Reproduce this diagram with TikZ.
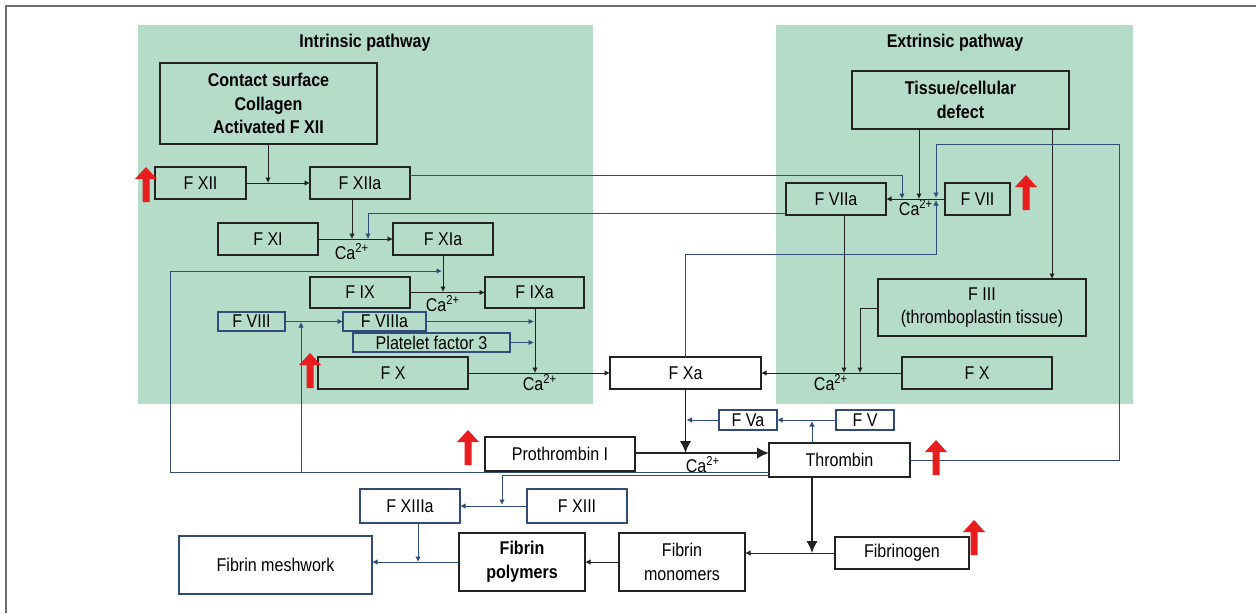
\documentclass[tikz,border=0pt]{standalone}
\usepackage{fontspec}
\setmainfont[FakeStretch=0.87]{Liberation Sans}
\usetikzlibrary{arrows.meta}
\definecolor{pathgreen}{RGB}{181,219,201}
\definecolor{bl}{RGB}{50,76,122}
\definecolor{bk}{RGB}{35,35,35}
\definecolor{upred}{RGB}{232,30,30}
\definecolor{framegray}{RGB}{110,110,110}
\newcommand\txtfont{\fontsize{10.5}{13.5}\selectfont}
\newcommand\bx[7]{\node[#6, minimum width={(#4-#2)*0.02cm}, minimum height={(#5-#3)*0.02cm}] (#1) at ({(#2+#4)/2},{(#3+#5)/2}) {#7};}
\newcommand\redup[3]{\fill[upred] (#1-3.5,#3) -- (#1-3.5,#2+12) -- (#1-11,#2+12) -- (#1,#2) -- (#1+11,#2+12) -- (#1+3.5,#2+12) -- (#1+3.5,#3) -- cycle;}
\tikzset{
  every node/.style={font=\txtfont, text=black, inner sep=0pt, outer sep=0pt, align=center},
  bbox/.style={draw=bk, line width=0.7pt},
  blbox/.style={draw=bl, line width=0.7pt},
  boldbox/.style={draw=bk, line width=0.8pt, font=\txtfont\bfseries},
  thickbox/.style={draw=bk, line width=1.1pt, font=\txtfont\bfseries},
  conn/.style={draw=bk, line width=0.55pt, -{Latex[length=1.1mm,width=1.1mm]}},
  bconn/.style={draw=bl, line width=0.55pt, -{Latex[length=1.1mm,width=1.1mm]}},
  bline/.style={draw=bl, line width=0.55pt},
  bigarr/.style={draw=bk, line width=1.1pt, -{Latex[length=2.4mm,width=2.3mm]}},
  ptitle/.style={font=\txtfont\bfseries},
}
\begin{document}
\begin{tikzpicture}[x=0.02cm, y=-0.02cm]
\useasboundingbox (0,0) rectangle (1256,613);
% frame
\draw[framegray, line width=0.8pt] (1256,6) -- (6,6) -- (6,613);
% pathway areas
\fill[pathgreen] (138,25) rectangle (593,404);
\fill[pathgreen] (776,25) rectangle (1133,404);
\node[ptitle] (tin) at (365,43) {Intrinsic pathway};
\node[ptitle] (tex) at (955,43) {Extrinsic pathway};

% boxes
\bx{contact}{160}{63}{377}{144}{boldbox}{Contact surface\\Collagen\\Activated F XII}
\bx{fxii}{155}{167}{246}{199}{bbox}{F XII}
\bx{fxiia}{310}{167}{410}{199}{bbox}{F XIIa}
\bx{fxi}{218}{223}{318}{255}{bbox}{F XI}
\bx{fxia}{393}{223}{493}{255}{bbox}{F XIa}
\bx{fix}{310}{277}{410}{308}{bbox}{F IX}
\bx{fixa}{485}{277}{584}{308}{bbox}{F IXa}
\bx{fviii}{218}{312}{285}{331}{blbox}{F VIII}
\bx{fviiia}{343}{312}{426}{331}{blbox}{F VIIIa}
\bx{pf}{353}{333}{510}{352}{blbox}{Platelet factor 3}
\bx{fxint}{318}{357}{468}{389}{bbox}{F X}
\bx{fxa}{610}{357}{761}{389}{bbox}{F Xa}
\bx{tissue}{852}{71}{1069}{129}{boldbox}{Tissue/cellular\\defect}
\bx{fviia}{786}{183}{886}{215}{bbox}{F VIIa}
\bx{fvii}{945}{183}{1010}{215}{bbox}{F VII}
\bx{fiii}{878}{279}{1086}{336}{bbox}{F III\\(thromboplastin tissue)}
\bx{fxext}{902}{357}{1052}{389}{bbox}{F X}
\bx{fva}{719}{410}{777}{430}{blbox}{F Va}
\bx{fv}{836}{410}{894}{430}{blbox}{F V}
\bx{proth}{485}{437}{635}{471}{bbox}{Prothrombin I}
\bx{thromb}{769}{443}{910}{477}{bbox}{Thrombin}
\bx{fxiiia}{360}{489}{460}{523}{blbox}{F XIIIa}
\bx{fxiii}{527}{489}{627}{523}{blbox}{F XIII}
\bx{mesh}{179}{536}{372}{594}{blbox}{Fibrin meshwork}
\bx{fpoly}{459}{533}{585}{591}{thickbox}{Fibrin\\polymers}
\bx{fmono}{619}{533}{745}{591}{bbox}{Fibrin\\monomers}
\bx{fgen}{835}{537}{969}{569}{bbox}{Fibrinogen}

% Ca labels
\node (ca1) at (352,252) {Ca\textsuperscript{2+}};
\node (ca2) at (443,304) {Ca\textsuperscript{2+}};
\node (ca3) at (540,383) {Ca\textsuperscript{2+}};
\node (ca4) at (916,208) {Ca\textsuperscript{2+}};
\node (ca5) at (831,383) {Ca\textsuperscript{2+}};
\node (ca6) at (703,465) {Ca\textsuperscript{2+}};

% intrinsic connectors
\draw[conn] (contact.south -| 268,0) -- (268,183);
\draw[conn] (fxii) -- (fxiia);
\draw[conn] (fxiia.south -| 352,0) -- (352,239);
\draw[conn] (fxi) -- (fxia);
\draw[conn] (fxia.south -| 443,0) -- (443,292);
\draw[conn] (fix) -- (fixa);
\draw[conn] (fixa.south -| 535,0) -- (535,373);
\draw[conn] (fxint) -- (fxa);
\draw[bconn] (fviii) -- (fviiia);
\draw[bconn] (fviiia.east) -- (534,321.5);
\draw[bconn] (pf.east) -- (534,342.5);

% extrinsic connectors
\draw[conn] (tissue.south -| 919,0) -- (919,199);
\draw[conn] (tissue.south -| 1052,0) -- (fiii.north -| 1052,0);
\draw[conn] (fvii) -- (fviia);
\draw[conn] (fviia.south -| 844,0) -- (844,373);
\draw[conn] (fiii.west |- 0,308) -| (860,373);
\draw[conn] (fxext) -- (fxa);

% blue feedback lines
\draw[bconn] (fxiia.east |- 0,175) -| (902,199);
\draw[bconn] (fviia.west |- 0,213) -| (368,239);
\draw[bconn] (thromb.east) -| (1119,144) -| (936,198);
\draw[bconn] (fxa.north) |- (936,254) -- (936,200);
\draw[bline] (thromb.west |- 0,472) -- (170,472) -- (170,271);
\draw[bconn] (170,271) -- (442,271);
\draw[bconn] (301,472) -- (301,322);
\draw[bconn] (thromb.west |- 0,475) -| (502,505);

% common pathway
\draw[bigarr] (proth.east |- 0,453) -- (thromb.west |- 0,453);
\draw[bigarr] (fxa.south) -- (685.5,453);
\draw[bconn] (fv) -- (fva);
\draw[bconn] (thromb.north -| 812,0) -- (812,421);
\draw[bconn] (fva.west) -- (686.5,420);
\draw[bigarr] (thromb.south -| 812,0) -- (812,553);
\draw[conn] (fgen.west) -- (fmono.east |- fgen.west);
\draw[conn] (fmono) -- (fpoly);
\draw[bconn] (fpoly.west) -- (mesh.east |- fpoly.west);
\draw[bconn] (fxiiia.south -| 418,0) -- (418,562);
\draw[bconn] (fxiii) -- (fxiiia);

% red up arrows
\redup{146}{167}{202}
\redup{310}{353}{388}
\redup{1026}{175}{210}
\redup{468}{430}{465}
\redup{936}{440}{475}
\redup{974}{520}{555}
\end{tikzpicture}
\end{document}
